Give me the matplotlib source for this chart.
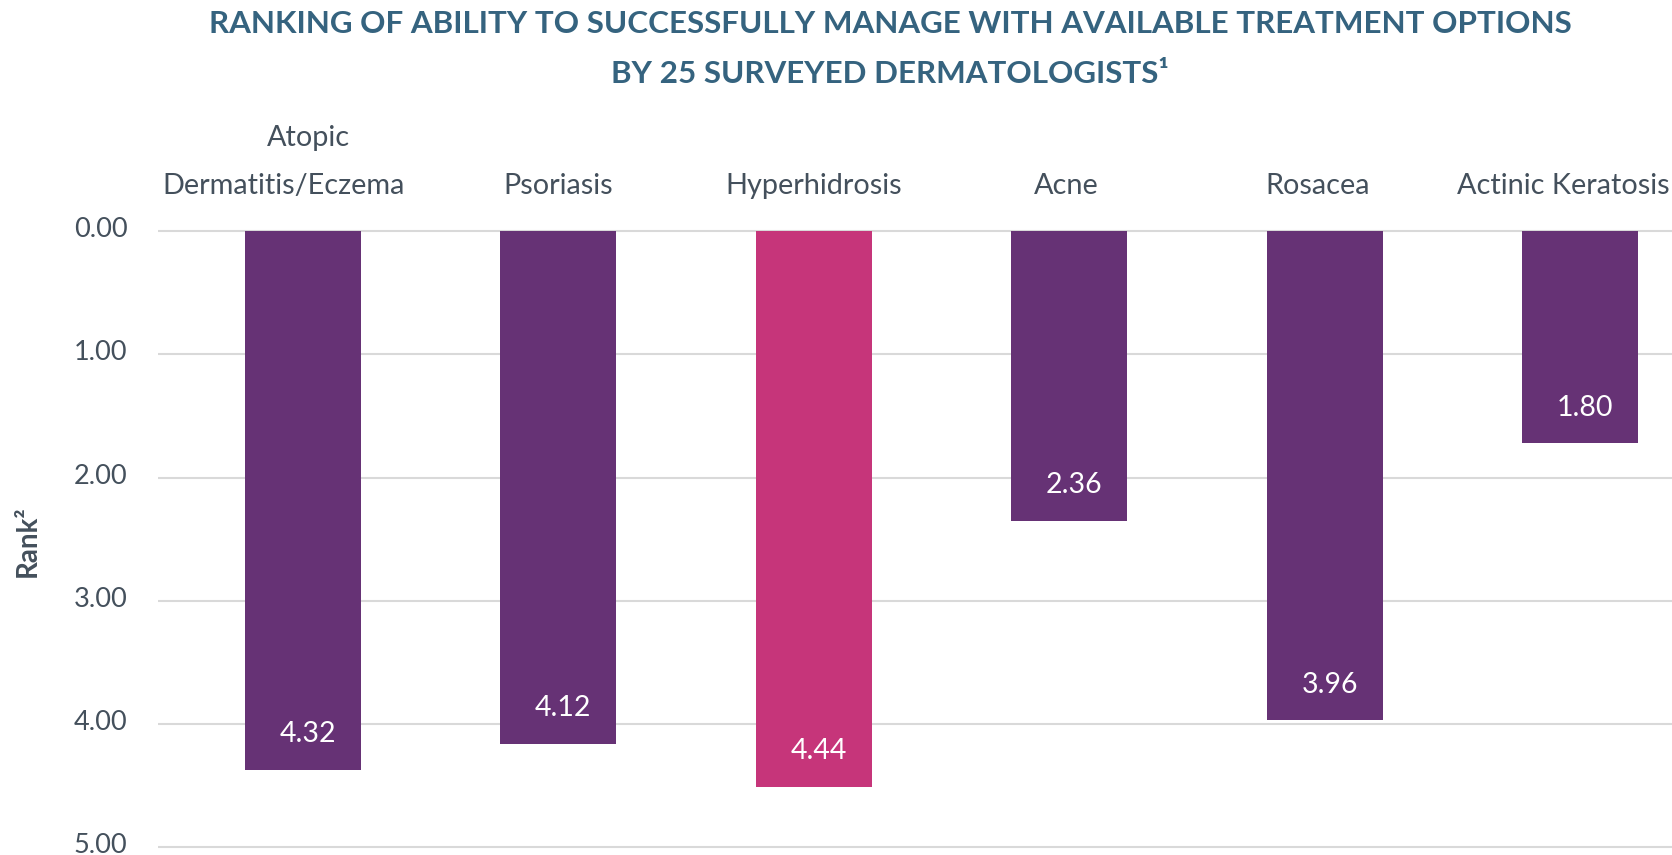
import matplotlib
matplotlib.use("Agg")
import matplotlib.pyplot as plt
import matplotlib.transforms as mtransforms

# ---- data ----
categories = ["Atopic\nDermatitis/Eczema", "Psoriasis", "Hyperhidrosis", "Acne", "Rosacea", "Actinic Keratosis"]
bar_values = [4.37, 4.16, 4.51, 2.35, 3.97, 1.72]      # bar lengths as drawn
value_labels = ["4.32", "4.12", "4.44", "2.36", "3.96", "1.80"]  # printed labels
highlight = [False, False, True, False, False, False]
yticks = [0, 1, 2, 3, 4, 5]

PURPLE = "#663275"
PINK = "#C6357A"
TITLE_C = "#35637F"
TEXT_C = "#44505C"
GRID_C = "#D9D9D9"

W, H = 1672, 855
fig = plt.figure(figsize=(W / 100, H / 100), dpi=100)
plt.rcParams["font.family"] = ["Lato", "DejaVu Sans"]

# axes geometry (pixels)
y0_px, unit_px = 231.3, 123.2
ymargin = 0.05
top_px = y0_px - ymargin * unit_px
bot_px = y0_px + (5 + ymargin) * unit_px
left_px = 158
c0_px, step_px = 302.8, 255.5
xl = -(c0_px - left_px) / step_px
xr = (W - c0_px) / step_px

ax = fig.add_axes([left_px / W, 1 - bot_px / H, (W - left_px) / W, (bot_px - top_px) / H])
ax.set_xlim(xl, xr)
ax.set_ylim(5 + ymargin, -ymargin)

x = list(range(len(categories)))
colors = [PINK if h else PURPLE for h in highlight]
ax.bar(x, bar_values, width=0.453, color=colors, zorder=3)

for xi, v, lab in zip(x, bar_values, value_labels):
    ax.annotate(lab, (xi, v), xytext=(3.6, 19.9), textcoords="offset points",
                ha="center", va="baseline", color="white", fontsize=20.5, zorder=4)

# grid
for t in yticks:
    ax.axhline(t, color=GRID_C, lw=1.5, zorder=1)

for s in ax.spines.values():
    s.set_visible(False)
ax.set_xticks([])
ax.set_yticks(yticks)
ax.set_yticklabels([f"{t:.2f}" for t in yticks], fontsize=19.5, color=TEXT_C)
ax.tick_params(axis="y", length=0, pad=22)
shift_up = mtransforms.ScaledTranslation(0, 4 / 100, fig.dpi_scale_trans)
for lab in ax.get_yticklabels():
    lab.set_transform(lab.get_transform() + shift_up)

# category labels above plot
trans = mtransforms.blended_transform_factory(ax.transData, fig.transFigure)
line_dx = {("Atopic"): 6, ("Dermatitis/Eczema"): -19, ("Acne"): -3, ("Rosacea"): -7}
for xi, cat in zip(x, categories):
    lines = cat.split("\n")
    base = 194
    for k, line in enumerate(reversed(lines)):
        if line == "Actinic Keratosis":
            fig.text((W - 2) / W, 1 - (base - 48 * k) / H, line, ha="right",
                     va="baseline", fontsize=20.8, color=TEXT_C)
            continue
        off = mtransforms.ScaledTranslation(line_dx.get(line, 0) / 100, 0, fig.dpi_scale_trans)
        fig.text(xi, 1 - (base - 48 * k) / H, line, transform=trans + off, ha="center",
                 va="baseline", fontsize=20.8, color=TEXT_C)

# y label
fig.text(28 / W, 1 - 541 / H, "Rank²", rotation=90, ha="center", va="center",
         fontsize=20, fontweight="bold", color=TEXT_C)

# title
fig.text(890 / W, 1 - 33.3 / H, "RANKING OF ABILITY TO SUCCESSFULLY MANAGE WITH AVAILABLE TREATMENT OPTIONS",
         ha="center", va="baseline", fontsize=22.6, fontweight="bold", color=TITLE_C)
fig.text(890 / W, 1 - 83.3 / H, "BY 25 SURVEYED DERMATOLOGISTS¹",
         ha="center", va="baseline", fontsize=22.6, fontweight="bold", color=TITLE_C)

fig.savefig("out.png", dpi=100)
